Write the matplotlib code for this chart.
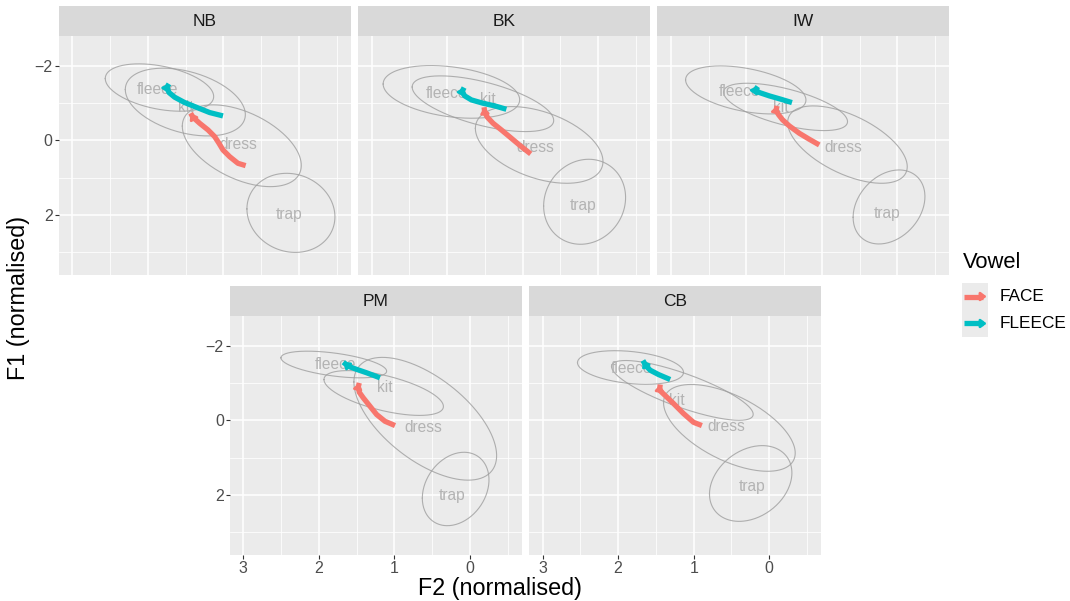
import numpy as np
import matplotlib
matplotlib.use('Agg')
import matplotlib.pyplot as plt

plt.rcParams['font.family'] = ['Liberation Sans', 'DejaVu Sans']

speakers = ['NB', 'BK', 'IW', 'PM', 'CB']
vowels = ['fleece', 'kit', 'dress', 'trap']

# ellipse centres, half-widths (F2), half-heights (F1) and correlation, per speaker
ell_x = [[1.847, 1.505, 0.758, 0.108],
         [1.943, 1.526, 0.782, 0.181],
         [2.007, 1.481, 0.662, 0.112],
         [1.803, 1.143, 0.593, 0.191],
         [1.836, 1.150, 0.528, 0.246]]
ell_y = [[-1.412, -1.023, 0.147, 1.944],
         [-1.295, -0.978, 0.125, 1.647],
         [-1.348, -0.893, 0.116, 1.786],
         [-1.493, -0.730, -0.040, 1.840],
         [-1.413, -0.800, 0.204, 1.693]]
ell_w = [[0.717, 0.794, 0.787, 0.582],
         [0.903, 0.936, 0.844, 0.542],
         [0.796, 0.820, 0.791, 0.475],
         [0.699, 0.790, 0.944, 0.441],
         [0.701, 0.937, 0.871, 0.545]]
ell_h = [[0.634, 0.907, 1.095, 1.059],
         [0.705, 0.746, 1.027, 1.138],
         [0.643, 0.634, 1.036, 0.991],
         [0.357, 0.600, 1.644, 0.983],
         [0.450, 0.800, 1.162, 1.014]]
ell_r = [[-0.38, -0.37, -0.48, -0.10],
         [-0.30, -0.60, -0.43, 0.10],
         [-0.42, -0.62, -0.57, 0.28],
         [-0.50, -0.60, -0.60, 0.25],
         [-0.29, -0.80, -0.58, 0.28]]

# vowel label positions
lab_x = [[1.867, 1.50, 0.80, 0.134],
         [2.009, 1.458, 0.828, 0.203],
         [2.09, 1.54, 0.719, 0.134],
         [1.787, 1.126, 0.619, 0.243],
         [1.817, 1.222, 0.570, 0.230]]
lab_y = [[-1.367, -0.885, 0.107, 2.0],
         [-1.259, -1.08, 0.196, 1.759],
         [-1.30, -0.88, 0.196, 1.955],
         [-1.493, -0.868, 0.2, 2.01],
         [-1.378, -0.536, 0.177, 1.77]]

# FACE trajectories
face_x = [[0.707, 0.809, 0.919, 1.007, 1.060, 1.117, 1.205, 1.316, 1.404, 1.435],
          [0.894, 1.018, 1.150, 1.282, 1.392, 1.467, 1.502, 1.511],
          [1.035, 1.167, 1.299, 1.431, 1.519, 1.571, 1.607, 1.593],
          [0.993, 1.126, 1.236, 1.324, 1.413, 1.466, 1.479, 1.466],
          [0.892, 1.003, 1.135, 1.267, 1.377, 1.452, 1.443]]
face_y = [[0.679, 0.617, 0.438, 0.259, 0.080, -0.098, -0.277, -0.456, -0.617, -0.724],
          [0.366, 0.170, -0.054, -0.277, -0.455, -0.616, -0.741, -0.884],
          [0.125, -0.027, -0.188, -0.384, -0.545, -0.679, -0.795, -0.920],
          [0.142, 0.027, -0.153, -0.375, -0.6, -0.75, -0.895, -1.0],
          [0.142, 0.054, -0.18, -0.448, -0.662, -0.805, -0.957]]

# FLEECE trajectories
fleece_x = [[1.007, 1.183, 1.360, 1.514, 1.646, 1.721, 1.748, 1.721],
            [1.216, 1.370, 1.524, 1.678, 1.767, 1.802, 1.775],
            [1.396, 1.541, 1.695, 1.826, 1.879, 1.848],
            [1.192, 1.368, 1.522, 1.611, 1.677],
            [1.311, 1.466, 1.575, 1.628, 1.672]]
fleece_y = [[-0.652, -0.742, -0.885, -1.010, -1.153, -1.278, -1.421, -1.510],
            [-0.830, -0.920, -0.991, -1.080, -1.188, -1.304, -1.411],
            [-1.009, -1.098, -1.188, -1.277, -1.348, -1.438],
            [-1.137, -1.271, -1.378, -1.448, -1.555],
            [-1.091, -1.225, -1.34, -1.448, -1.6]]

vowel_names = ['FACE', 'FLEECE']
vowel_cols = ['#F8766D', '#00BFC4']

W, H = 1070, 601
fig = plt.figure(figsize=(W / 100, H / 100), dpi=100)

pw = 291.8
panel_left = [59, 358.2, 657.4, 230, 529.2]
panel_top = [35.7, 35.7, 35.7, 315.7, 315.7]
ph = 239.0
strip_h = 29.7


def fx(px):
    return px / W


def fy(py):
    return 1 - py / H


def draw_arrow(ax, xs, ys, col):
    ax.plot(xs, ys, color=col, lw=3.8, solid_capstyle='butt', solid_joinstyle='round', zorder=4)
    ax.annotate('', xy=(xs[-1], ys[-1]), xytext=(xs[-2], ys[-2]),
                arrowprops=dict(arrowstyle='-|>,head_length=0.4,head_width=0.3', color=col,
                                lw=2.0, shrinkA=0, shrinkB=0, mutation_scale=8), zorder=5)


t = np.linspace(0, 2 * np.pi, 200)
for i, sp in enumerate(speakers):
    l, tp = panel_left[i], panel_top[i]
    ax = fig.add_axes([fx(l), fy(tp + ph), pw / W, ph / H])
    ax.set_facecolor('#EBEBEB')
    for s in ax.spines.values():
        s.set_visible(False)
    ax.set_xlim(3.176, -0.684)
    ax.set_ylim(3.60, -2.80)
    ax.set_xticks([3, 2, 1, 0])
    ax.set_xticks([2.5, 1.5, 0.5, -0.5], minor=True)
    ax.set_yticks([-2, 0, 2])
    ax.set_yticks([-1, 1, 3], minor=True)
    ax.grid(which='major', color='white', lw=1.1)
    ax.grid(which='minor', color='white', lw=0.55)
    ax.set_axisbelow(True)
    ax.tick_params(which='minor', length=0)
    ax.tick_params(which='major', length=3, width=0.8, color='#333333', labelcolor='#4D4D4D',
                   labelsize=11.5, pad=1.5)
    if i not in (0, 3):
        ax.tick_params(axis='y', which='major', left=False, labelleft=False)
    if i < 3:
        ax.tick_params(axis='x', which='major', bottom=False, labelbottom=False)

    for j, v in enumerate(vowels):
        cx, cy = ell_x[i][j], ell_y[i][j]
        a, b, r = ell_w[i][j], ell_h[i][j], ell_r[i][j]
        ex = cx + a * np.cos(t)
        ey = cy + r * b * np.cos(t) + b * np.sqrt(1 - r * r) * np.sin(t)
        ax.plot(ex, ey, color='#9E9E9E', lw=0.8, alpha=0.8, zorder=2)
        ax.text(lab_x[i][j], lab_y[i][j], v, color='#B3B3B3', fontsize=11.2,
                ha='center', va='center', zorder=3)

    draw_arrow(ax, face_x[i], face_y[i], vowel_cols[0])
    draw_arrow(ax, fleece_x[i], fleece_y[i], vowel_cols[1])

    sax = fig.add_axes([fx(l), fy(tp), pw / W, strip_h / H])
    sax.set_facecolor('#D9D9D9')
    sax.set_xticks([])
    sax.set_yticks([])
    for s in sax.spines.values():
        s.set_visible(False)
    sax.text(0.5, 0.47, sp, ha='center', va='center', fontsize=12.5, color='#1A1A1A',
             transform=sax.transAxes)

fig.text(fx(19), fy(298), 'F1 (normalised)', rotation=90, ha='center', va='center', fontsize=16.8)
fig.text(fx(500), fy(595), 'F2 (normalised)', ha='center', va='baseline', fontsize=16.8)

# legend
fig.text(fx(963), fy(262), 'Vowel', ha='left', va='center', fontsize=15.8)
key_top = 283
key_h = 27
for k, (name, col) in enumerate(zip(vowel_names, vowel_cols)):
    kt = key_top + k * key_h
    kax = fig.add_axes([fx(962), fy(kt + key_h), 26 / W, key_h / H])
    kax.set_facecolor('#EBEBEB')
    kax.set_xlim(0, 1)
    kax.set_ylim(0, 1)
    kax.set_xticks([])
    kax.set_yticks([])
    for s in kax.spines.values():
        s.set_visible(False)
    kax.plot([0.08, 0.8], [0.5, 0.5], color=col, lw=3.8, solid_capstyle='butt')
    kax.annotate('', xy=(0.95, 0.5), xytext=(0.7, 0.5),
                 arrowprops=dict(arrowstyle='-|>,head_length=0.4,head_width=0.3', color=col,
                                 lw=2.0, shrinkA=0, shrinkB=0, mutation_scale=8))
    fig.text(fx(1000), fy(kt + key_h / 2), name, ha='left', va='center', fontsize=12.4)

fig.savefig('out.png', dpi=100)
